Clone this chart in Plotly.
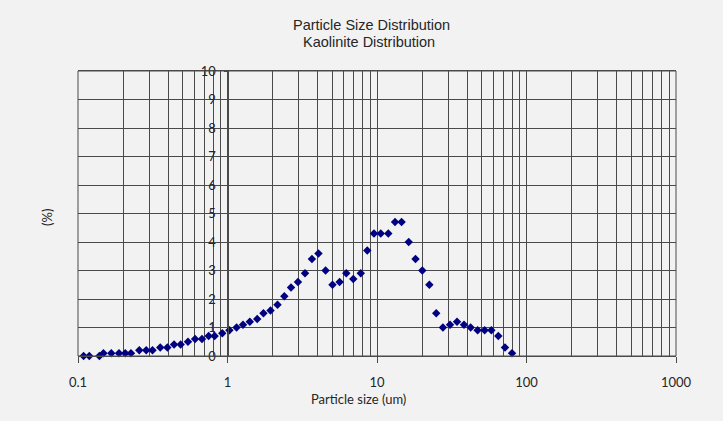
import numpy as np
import plotly.graph_objects as go

# Data
size_um = [0.099, 0.109, 0.119, 0.139, 0.148, 0.167, 0.188, 0.207, 0.226, 0.257,
           0.286, 0.315, 0.355, 0.396, 0.439, 0.486, 0.544, 0.607, 0.675, 0.748,
           0.82, 0.923, 1.03, 1.15, 1.27, 1.41, 1.58, 1.74, 1.94, 2.16,
           2.40, 2.66, 2.96, 3.30, 3.67, 4.06, 4.53, 5.04, 5.62, 6.23,
           6.94, 7.79, 8.61, 9.55, 10.6, 11.9, 13.2, 14.6, 16.3, 18.1,
           20.1, 22.4, 24.9, 27.6, 30.8, 34.3, 38.2, 42.3, 47.1, 52.5,
           58.2, 64.8, 71.8, 80.0]
percent = [0.0, 0.0, 0.0, 0.0, 0.1, 0.1, 0.1, 0.1, 0.1, 0.2,
           0.2, 0.2, 0.3, 0.3, 0.4, 0.4, 0.5, 0.6, 0.6, 0.7,
           0.7, 0.8, 0.9, 1.0, 1.1, 1.2, 1.3, 1.5, 1.6, 1.8,
           2.1, 2.4, 2.6, 2.9, 3.4, 3.6, 3.0, 2.5, 2.6, 2.9,
           2.7, 2.9, 3.7, 4.3, 4.3, 4.3, 4.7, 4.7, 4.0, 3.4,
           3.0, 2.5, 1.5, 1.0, 1.1, 1.2, 1.1, 1.0, 0.9, 0.9,
           0.9, 0.7, 0.3, 0.1]

x_major = [0.1, 1, 10, 100, 1000]
x_major_labels = ["0.1", "1", "10", "100", "1000"]
x_minor = [d * 10.0 ** e for e in range(-1, 3) for d in range(2, 10)]
y_ticks = list(range(0, 11))

title_lines = ["Particle Size Distribution", "Kaolinite Distribution"]
x_title = "Particle size (um)"
y_title = "(%)"

W, H = 723, 421
ML, MR, MT, MB = 78, 47, 71, 65
pw = W - ML - MR
ph = H - MT - MB

grid_col = "#4a4a4a"
txt_font = "Lato"
txt_col = "#262626"


def px_x(px):
    return (px - ML) / pw


def px_y(py):
    return ((H - MB) - py) / ph


fig = go.Figure()
fig.add_trace(go.Scatter(
    x=size_um, y=percent, mode="markers",
    marker=dict(symbol="diamond", size=6.5, color="#000080",
                line=dict(width=0)),
    showlegend=False, cliponaxis=False,
))

fig.update_layout(
    width=W, height=H,
    margin=dict(l=ML, r=MR, t=MT, b=MB),
    paper_bgcolor="#F2F2F2", plot_bgcolor="#F2F2F2",
    xaxis=dict(
        type="log", range=[-1, 3],
        tickvals=x_major, ticktext=x_major_labels,
        ticks="outside", ticklen=6, tickcolor=grid_col,
        ticklabelstandoff=8,
        showgrid=True, gridcolor=grid_col, gridwidth=1,
        minor=dict(tickvals=x_minor, showgrid=True, gridcolor=grid_col,
                   gridwidth=1, ticks=""),
        showline=True, mirror=True, linecolor=grid_col, linewidth=1,
        zeroline=False,
        tickfont=dict(family=txt_font, size=13, color=txt_col),
        fixedrange=True,
    ),
    yaxis=dict(
        range=[0, 10], tickvals=y_ticks,
        anchor="free", position=0.25, side="left",
        ticks="outside", ticklen=4, tickcolor=grid_col,
        ticklabelstandoff=5,
        showgrid=True, gridcolor=grid_col, gridwidth=1,
        showline=True, linecolor=grid_col, linewidth=1,
        zeroline=False,
        tickfont=dict(family=txt_font, size=13, color=txt_col),
        fixedrange=True,
    ),
    shapes=[
        dict(type="rect", xref="paper", yref="paper", x0=0, x1=1, y0=0, y1=1,
             line=dict(color=grid_col, width=1), fillcolor="rgba(0,0,0,0)",
             layer="above"),
    ],
    annotations=[
        dict(text=title_lines[0], xref="paper", yref="paper",
             x=px_x(371), y=px_y(25),
             xanchor="center", yanchor="middle", showarrow=False,
             font=dict(family="Liberation Sans", size=14.5, color=txt_col)),
        dict(text=title_lines[1], xref="paper", yref="paper",
             x=px_x(369), y=px_y(42),
             xanchor="center", yanchor="middle", showarrow=False,
             font=dict(family="Liberation Sans", size=14.5, color=txt_col)),
        dict(text=x_title, xref="paper", yref="paper",
             x=px_x(358), y=px_y(399),
             xanchor="center", yanchor="middle", showarrow=False,
             font=dict(family=txt_font, size=13, color=txt_col)),
        dict(text=y_title, xref="paper", yref="paper",
             x=px_x(47), y=px_y(218),
             xanchor="center", yanchor="middle", showarrow=False,
             textangle=-90,
             font=dict(family=txt_font, size=13, color=txt_col)),
    ],
)

fig.write_html("out.html")
